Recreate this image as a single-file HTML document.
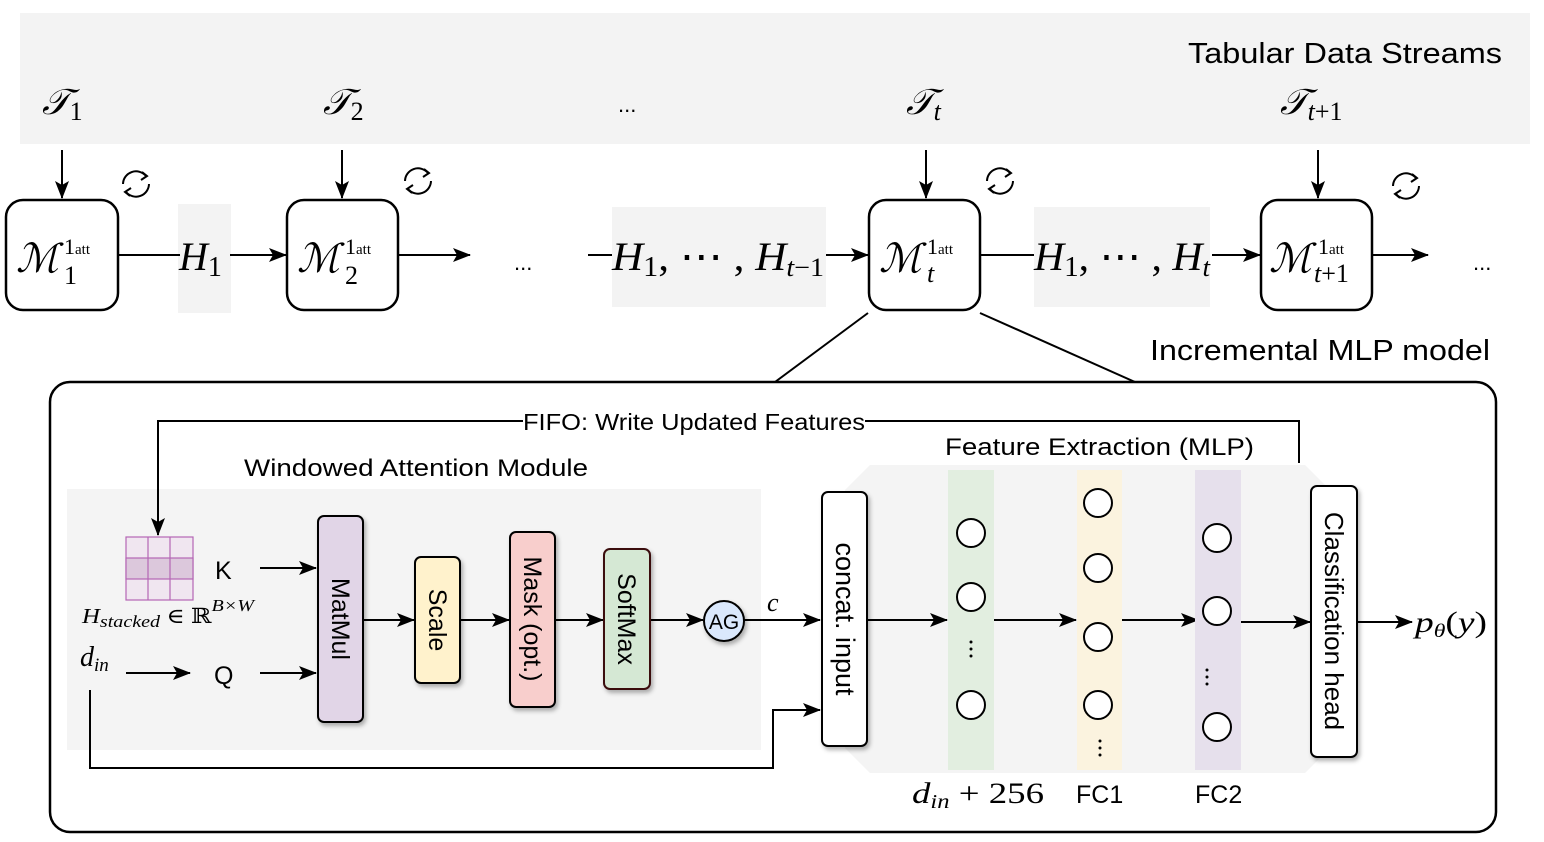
<!DOCTYPE html>
<html><head><meta charset="utf-8"><style>
html,body{margin:0;padding:0;background:#fff;}
svg{display:block;}
.s{font-family:"Liberation Sans",sans-serif;}
.m{font-family:"Liberation Serif","DejaVu Serif",serif;font-style:italic;}
</style></head><body>
<svg width="1544" height="842" viewBox="0 0 1544 842" xmlns="http://www.w3.org/2000/svg">
<defs>
<marker id="a" markerWidth="18" markerHeight="14" refX="17" refY="7" orient="auto" markerUnits="userSpaceOnUse">
<path d="M0,0 L18,7 L0,14 L4,7 Z" fill="#000"/></marker>
<marker id="b" markerWidth="14" markerHeight="11" refX="13" refY="5.5" orient="auto" markerUnits="userSpaceOnUse">
<path d="M0,0 L14,5.5 L0,11 L3,5.5 Z" fill="#000"/></marker>
<filter id="sh" x="-20%" y="-20%" width="150%" height="150%"><feDropShadow dx="2" dy="3" stdDeviation="2" flood-opacity="0.3"/></filter>
</defs>
<rect x="20" y="13" width="1510" height="131" fill="#f3f3f3"/>
<text class="s" x="1188" y="63" font-size="29" textLength="314" lengthAdjust="spacingAndGlyphs">Tabular Data Streams</text>
<g class="m" font-size="36">
<text x="42" y="114">𝒯<tspan font-size="26" font-style="normal" dy="6">1</tspan></text>
<text x="323" y="114">𝒯<tspan font-size="26" font-style="normal" dy="6">2</tspan></text>
<text x="906" y="114">𝒯<tspan font-size="26" dy="6">t</tspan></text>
<text x="1280" y="114">𝒯<tspan font-size="26" dy="6">t</tspan><tspan font-size="26" font-style="normal">+1</tspan></text>
</g>
<text class="s" x="618" y="112" font-size="22">...</text>
<g stroke="#000" stroke-width="2" fill="none">
<line x1="62" y1="150" x2="62" y2="198" marker-end="url(#a)"/>
<line x1="342" y1="150" x2="342" y2="198" marker-end="url(#a)"/>
<line x1="926" y1="150" x2="926" y2="198" marker-end="url(#a)"/>
<line x1="1318" y1="150" x2="1318" y2="198" marker-end="url(#a)"/>
</g>
<g stroke="#000" stroke-width="2" fill="none">
<g transform="translate(136,184)"><path d="M-13,0 A13,13 0 0 1 10,-8"/><path d="M13,0 A13,13 0 0 1 -10,8"/><path d="M6,-12 L11,-8 L5,-4" /><path d="M-6,12 L-11,8 L-5,4"/></g>
<g transform="translate(418,181)"><path d="M-13,0 A13,13 0 0 1 10,-8"/><path d="M13,0 A13,13 0 0 1 -10,8"/><path d="M6,-12 L11,-8 L5,-4" /><path d="M-6,12 L-11,8 L-5,4"/></g>
<g transform="translate(1000,181)"><path d="M-13,0 A13,13 0 0 1 10,-8"/><path d="M13,0 A13,13 0 0 1 -10,8"/><path d="M6,-12 L11,-8 L5,-4" /><path d="M-6,12 L-11,8 L-5,4"/></g>
<g transform="translate(1406,186)"><path d="M-13,0 A13,13 0 0 1 10,-8"/><path d="M13,0 A13,13 0 0 1 -10,8"/><path d="M6,-12 L11,-8 L5,-4" /><path d="M-6,12 L-11,8 L-5,4"/></g>
</g>
<rect x="178" y="204" width="53" height="109" fill="#f3f3f3"/>
<rect x="612" y="207" width="214" height="100" fill="#f3f3f3"/>
<rect x="1034" y="207" width="176" height="100" fill="#f3f3f3"/>
<g stroke="#000" stroke-width="2" fill="none">
<line x1="118" y1="255" x2="180" y2="255"/>
<line x1="230" y1="255" x2="286" y2="255" marker-end="url(#a)"/>
<line x1="398" y1="255" x2="470" y2="255" marker-end="url(#a)"/>
<line x1="588" y1="255" x2="612" y2="255"/>
<line x1="826" y1="255" x2="868" y2="255" marker-end="url(#a)"/>
<line x1="980" y1="255" x2="1034" y2="255"/>
<line x1="1212" y1="255" x2="1260" y2="255" marker-end="url(#a)"/>
<line x1="1372" y1="255" x2="1428" y2="255" marker-end="url(#a)"/>
<line x1="868" y1="313" x2="775" y2="382"/>
<line x1="980" y1="313" x2="1135" y2="382"/>
</g>
<g fill="#fff" stroke="#000" stroke-width="2.5">
<rect x="6" y="200" width="112" height="110" rx="17"/>
<rect x="287" y="200" width="111" height="110" rx="17"/>
<rect x="869" y="200" width="111" height="110" rx="17"/>
<rect x="1261" y="200" width="111" height="110" rx="17"/>
</g>
<g class="m" font-size="40">
<text x="16" y="272">ℳ</text><text x="64" y="254" font-size="22" font-style="normal">1<tspan font-size="15">att</tspan></text><text x="64" y="284" font-size="26" font-style="normal">1</text>
<text x="297" y="272">ℳ</text><text x="345" y="254" font-size="22" font-style="normal">1<tspan font-size="15">att</tspan></text><text x="345" y="284" font-size="26" font-style="normal">2</text>
<text x="879" y="272">ℳ</text><text x="927" y="254" font-size="22" font-style="normal">1<tspan font-size="15">att</tspan></text><text x="927" y="282" font-size="26">t</text>
<text x="1269" y="272">ℳ</text><text x="1318" y="254" font-size="22" font-style="normal">1<tspan font-size="15">att</tspan></text><text x="1314" y="282" font-size="26">t<tspan font-style="normal">+1</tspan></text>
</g>
<g class="m" font-size="40">
<text x="179" y="270">H<tspan font-size="28" font-style="normal" dy="6">1</tspan></text>
<text x="612" y="270" textLength="212" lengthAdjust="spacingAndGlyphs">H<tspan font-size="28" font-style="normal" dy="6">1</tspan><tspan dy="-6" font-style="normal">, ⋯ ,</tspan> H<tspan font-size="26" dy="6">t</tspan><tspan font-size="26" font-style="normal">−1</tspan></text>
<text x="1034" y="270" textLength="176" lengthAdjust="spacingAndGlyphs">H<tspan font-size="28" font-style="normal" dy="6">1</tspan><tspan dy="-6" font-style="normal">, ⋯ ,</tspan> H<tspan font-size="26" dy="6">t</tspan></text>
</g>
<text class="s" x="514" y="270" font-size="22">...</text>
<text class="s" x="1473" y="270" font-size="22">...</text>
<text class="s" x="1150" y="360" font-size="29" textLength="340" lengthAdjust="spacingAndGlyphs">Incremental MLP model</text>
<rect x="50" y="382" width="1446" height="450" rx="20" fill="#fff" stroke="#000" stroke-width="2.5"/>
<rect x="67" y="489" width="694" height="261" fill="#f4f4f4"/>
<polygon points="870,465 1305,465 1330,490 1330,748 1305,773 870,773 845,748 845,490" fill="#f4f4f4"/>
<g stroke="#000" stroke-width="2" fill="none">
<polyline points="1299,463 1299,421 158,421 158,535" marker-end="url(#a)"/>
</g>
<rect x="523" y="408" width="342" height="26" fill="#fff"/>
<text class="s" x="523" y="430" font-size="23" textLength="342" lengthAdjust="spacingAndGlyphs">FIFO: Write Updated Features</text>
<text class="s" x="244" y="476" font-size="24" textLength="344" lengthAdjust="spacingAndGlyphs">Windowed Attention Module</text>
<text class="s" x="945" y="455" font-size="24" textLength="309" lengthAdjust="spacingAndGlyphs">Feature Extraction (MLP)</text>
<g stroke="#b566b5" stroke-width="1.2">
<rect x="126" y="537" width="67" height="63" fill="#f0e6f0"/>
<rect x="126" y="558" width="67" height="21" fill="#dcc8dc"/>
<line x1="148" y1="537" x2="148" y2="600"/><line x1="170" y1="537" x2="170" y2="600"/>
</g>
<text class="m" x="82" y="623" font-size="21" textLength="172" lengthAdjust="spacingAndGlyphs">H<tspan font-size="17" dy="4">stacked</tspan><tspan dy="-4" font-style="normal"> ∈ ℝ</tspan><tspan font-size="17" dy="-12">B×W</tspan></text>
<text class="m" x="80" y="666" font-size="28">d<tspan font-size="19" dy="5">in</tspan></text>
<text class="s" x="215" y="579" font-size="25">K</text>
<text class="s" x="214" y="684" font-size="25">Q</text>
<g stroke="#000" stroke-width="2" fill="none">
<line x1="260" y1="568" x2="316" y2="568" marker-end="url(#a)"/>
<line x1="260" y1="673" x2="316" y2="673" marker-end="url(#a)"/>
<line x1="126" y1="673" x2="190" y2="673" marker-end="url(#a)"/>
<line x1="363" y1="620" x2="414" y2="620" marker-end="url(#a)"/>
<line x1="460" y1="620" x2="509" y2="620" marker-end="url(#a)"/>
<line x1="555" y1="620" x2="603" y2="620" marker-end="url(#a)"/>
<line x1="650" y1="620" x2="703" y2="620" marker-end="url(#a)"/>
<line x1="744" y1="620" x2="820" y2="620" marker-end="url(#a)"/>
<polyline points="90,690 90,768 773,768 773,710 820,710" marker-end="url(#a)"/>
<line x1="867" y1="620" x2="947" y2="620" marker-end="url(#a)"/>
<line x1="994" y1="620" x2="1076" y2="620" marker-end="url(#a)"/>
<line x1="1122" y1="620" x2="1198" y2="620" marker-end="url(#a)"/>
<line x1="1241" y1="622" x2="1310" y2="622" marker-end="url(#a)"/>
<line x1="1357" y1="622" x2="1412" y2="622" marker-end="url(#a)"/>
</g>
<g stroke="#000" stroke-width="2" filter="url(#sh)">
<rect x="318" y="516" width="45" height="206" rx="6" fill="#e1d5e7"/>
<rect x="415" y="557" width="45" height="126" rx="6" fill="#fff2cc"/>
<rect x="510" y="532" width="45" height="175" rx="6" fill="#f8cecc"/>
<rect x="604" y="549" width="46" height="140" rx="6" fill="#d5e8d4" stroke="#3a1010"/>
<circle cx="724" cy="621" r="20" fill="#dae8fc"/>
<rect x="822" y="492" width="45" height="254" rx="6" fill="#fff"/>
<rect x="1311" y="486" width="46" height="271" rx="6" fill="#fff"/>
</g>
<g class="s" font-size="25">
<text transform="translate(332,619) rotate(90)" text-anchor="middle">MatMul</text>
<text transform="translate(429,620) rotate(90)" text-anchor="middle">Scale</text>
<text transform="translate(524,619) rotate(90)" text-anchor="middle">Mask (opt.)</text>
<text transform="translate(618,619) rotate(90)" text-anchor="middle">SoftMax</text>
<text transform="translate(836,619) rotate(90)" text-anchor="middle" font-size="27">concat. input</text>
<text transform="translate(1325,621) rotate(90)" text-anchor="middle" font-size="26">Classification head</text>
<text x="724" y="629" text-anchor="middle" font-size="21">AG</text>
</g>
<text class="m" x="767" y="611" font-size="26">c</text>
<rect x="948" y="470" width="46" height="300" fill="#e2eee0"/>
<rect x="1077" y="470" width="45" height="300" fill="#fbf3df"/>
<rect x="1195" y="470" width="46" height="300" fill="#e6e0ec"/>
<g fill="#fff" stroke="#000" stroke-width="2">
<circle cx="971" cy="533" r="14"/><circle cx="971" cy="597" r="14"/><circle cx="971" cy="705" r="14"/>
<circle cx="1098" cy="503" r="14"/><circle cx="1098" cy="568" r="14"/><circle cx="1098" cy="637" r="14"/><circle cx="1098" cy="705" r="14"/>
<circle cx="1217" cy="538" r="14"/><circle cx="1217" cy="611" r="14"/><circle cx="1217" cy="727" r="14"/>
</g>
<g fill="#000">
<circle cx="971" cy="642" r="1.5"/><circle cx="971" cy="649" r="1.5"/><circle cx="971" cy="656" r="1.5"/>
<circle cx="1100" cy="741" r="1.5"/><circle cx="1100" cy="748" r="1.5"/><circle cx="1100" cy="755" r="1.5"/>
<circle cx="1207" cy="670" r="1.5"/><circle cx="1207" cy="677" r="1.5"/><circle cx="1207" cy="684" r="1.5"/>
</g>
<text class="m" x="1415" y="632" font-size="30" textLength="72" lengthAdjust="spacingAndGlyphs">p<tspan font-size="19" dy="5">θ</tspan><tspan dy="-5" font-style="normal">(</tspan>y<tspan font-style="normal">)</tspan></text>
<text class="m" x="912" y="803" font-size="30" textLength="132" lengthAdjust="spacingAndGlyphs">d<tspan font-size="20" dy="5">in</tspan><tspan dy="-5" font-style="normal"> + 256</tspan></text>
<text class="s" x="1076" y="803" font-size="25">FC1</text>
<text class="s" x="1195" y="803" font-size="25">FC2</text>
</svg>
</body></html>
